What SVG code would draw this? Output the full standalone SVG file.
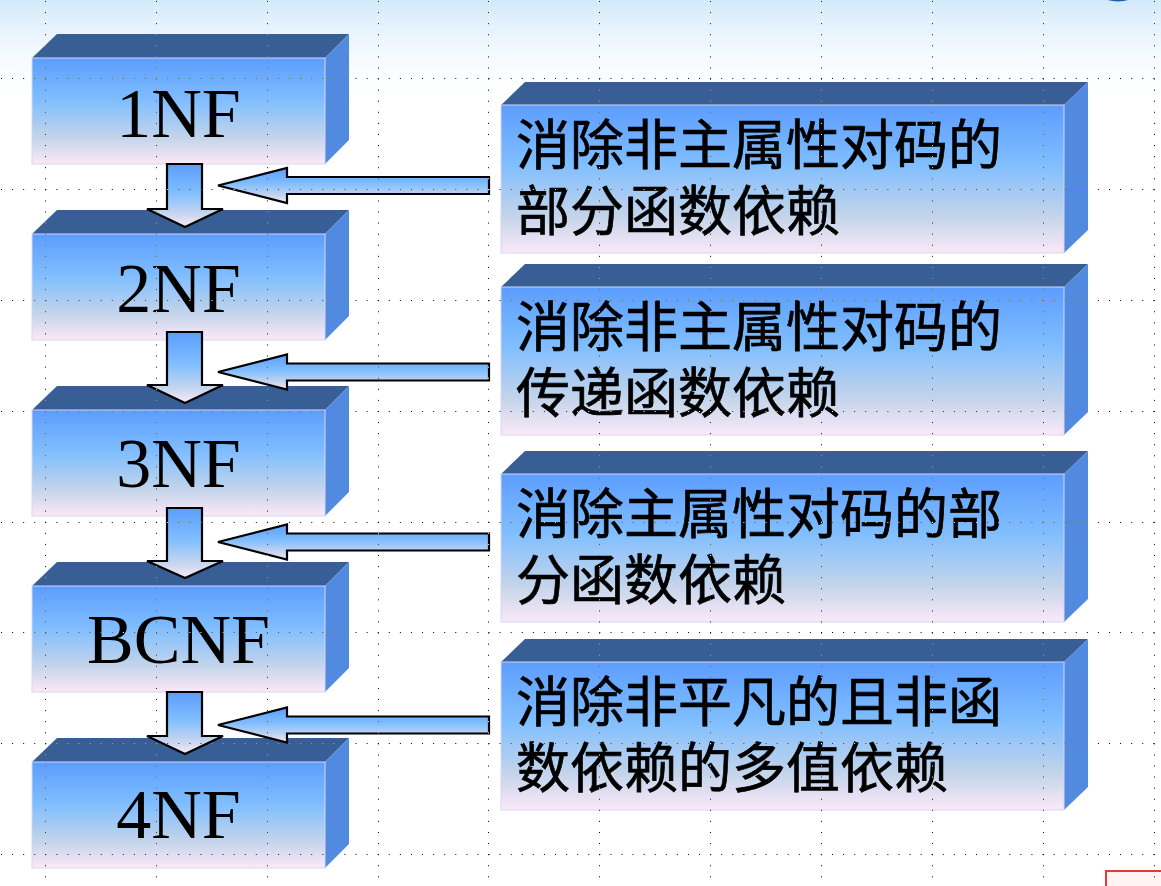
<svg xmlns="http://www.w3.org/2000/svg" width="1161" height="886" viewBox="0 0 1161 886">
<defs>
<linearGradient id="gFront" x1="0" y1="0" x2="0" y2="1">
<stop offset="0" stop-color="#5C9DFF"/>
<stop offset="0.4" stop-color="#80BEFF"/>
<stop offset="0.75" stop-color="#C3D4EA"/>
<stop offset="1" stop-color="#FBE9F8"/>
</linearGradient>
<linearGradient id="gArrow" x1="0" y1="0" x2="0" y2="1">
<stop offset="0" stop-color="#5C9DFF"/>
<stop offset="0.45" stop-color="#80BEFF"/>
<stop offset="0.8" stop-color="#C8D6EE"/>
<stop offset="1" stop-color="#FBE9F8"/>
</linearGradient>
<linearGradient id="gSky" x1="0" y1="0" x2="0" y2="1">
<stop offset="0" stop-color="#D2E9FA"/>
<stop offset="1" stop-color="#FFFFFF" stop-opacity="0"/>
</linearGradient>
<radialGradient id="gSky2" cx="0.5" cy="0" r="0.5">
<stop offset="0" stop-color="#BEE0F8"/>
<stop offset="1" stop-color="#BEE0F8" stop-opacity="0"/>
</radialGradient>
</defs>
<style>
.top{fill:#385E96}
.side{fill:#528AE0}
.front{fill:url(#gFront);stroke:#D6D6F2;stroke-width:1}
.lbl{font-family:"Liberation Serif","Times New Roman",serif;font-size:70px;fill:#000;text-anchor:middle}
.cjk{font-family:"Noto Sans CJK SC","Noto Sans",sans-serif;font-size:54px;fill:#000;stroke:#000;stroke-width:0.7}
.arr{fill:url(#gArrow);stroke:#000;stroke-width:2.2;stroke-linejoin:miter}
.grid{mix-blend-mode:difference}
.grid line{stroke:#FFFFFF;stroke-width:1;stroke-dasharray:1 10.08}
</style>
<rect x="0" y="0" width="1161" height="886" fill="#FFFFFF"/>
<rect x="0" y="0" width="1161" height="110" fill="url(#gSky)"/>
<ellipse cx="880" cy="0" rx="480" ry="95" fill="url(#gSky2)"/>
<ellipse cx="1118" cy="-4" rx="15" ry="5.5" fill="#1F5DAE"/>
<rect x="1106" y="871" width="60" height="20" fill="#FFF2F2" stroke="#E03A3A" stroke-width="2"/>

<g id="n-1nf" transform="translate(0,58)">
<polygon class="top" points="32,0 57,-24 349,-24 325,0"/>
<polygon class="side" points="325,0 349,-24 349,82 325,106"/>
<rect class="front" x="32" y="0" width="293" height="106"/>
<text class="lbl" x="178.5" y="79">1NF</text>
</g>
<g id="n-2nf" transform="translate(0,234)">
<polygon class="top" points="32,0 57,-24 349,-24 325,0"/>
<polygon class="side" points="325,0 349,-24 349,82 325,106"/>
<rect class="front" x="32" y="0" width="293" height="106"/>
<text class="lbl" x="178.5" y="78">2NF</text>
</g>
<g id="n-3nf" transform="translate(0,410)">
<polygon class="top" points="32,0 57,-24 349,-24 325,0"/>
<polygon class="side" points="325,0 349,-24 349,82 325,106"/>
<rect class="front" x="32" y="0" width="293" height="106"/>
<text class="lbl" x="178.5" y="77">3NF</text>
</g>
<g id="n-bcnf" transform="translate(0,586)">
<polygon class="top" points="32,0 57,-24 349,-24 325,0"/>
<polygon class="side" points="325,0 349,-24 349,82 325,106"/>
<rect class="front" x="32" y="0" width="293" height="106"/>
<text class="lbl" x="178.5" y="77">BCNF</text>
</g>
<g id="n-4nf" transform="translate(0,762)">
<polygon class="top" points="32,0 57,-24 349,-24 325,0"/>
<polygon class="side" points="325,0 349,-24 349,82 325,106"/>
<rect class="front" x="32" y="0" width="293" height="106"/>
<text class="lbl" x="178.5" y="76">4NF</text>
</g>

<g id="r-1" transform="translate(0,105)">
<polygon class="top" points="501,0 525,-23 1088,-23 1064,0"/>
<polygon class="side" points="1064,0 1088,-23 1088,125 1064,148"/>
<rect class="front" x="501" y="0" width="563" height="148"/>
<text class="cjk"><tspan x="516" y="60">消除非主属性对码的</tspan><tspan x="516" y="126">部分函数依赖</tspan></text>
</g>
<g id="r-2" transform="translate(0,287)">
<polygon class="top" points="501,0 525,-23 1088,-23 1064,0"/>
<polygon class="side" points="1064,0 1088,-23 1088,125 1064,148"/>
<rect class="front" x="501" y="0" width="563" height="148"/>
<text class="cjk"><tspan x="516" y="60">消除非主属性对码的</tspan><tspan x="516" y="126">传递函数依赖</tspan></text>
</g>
<g id="r-3" transform="translate(0,474)">
<polygon class="top" points="501,0 525,-23 1088,-23 1064,0"/>
<polygon class="side" points="1064,0 1088,-23 1088,125 1064,148"/>
<rect class="front" x="501" y="0" width="563" height="148"/>
<text class="cjk"><tspan x="516" y="60">消除主属性对码的部</tspan><tspan x="516" y="126">分函数依赖</tspan></text>
</g>
<g id="r-4" transform="translate(0,662)">
<polygon class="top" points="501,0 525,-23 1088,-23 1064,0"/>
<polygon class="side" points="1064,0 1088,-23 1088,125 1064,148"/>
<rect class="front" x="501" y="0" width="563" height="148"/>
<text class="cjk"><tspan x="516" y="60">消除非平凡的且非函</tspan><tspan x="516" y="126">数依赖的多值依赖</tspan></text>
</g>

<g id="connectors">
<path class="arr" d="M167,164 L202,164 L202,209 L223,209 L185,227 L147,209 L167,209 Z"/>
<path class="arr" d="M167,332 L202,332 L202,385 L223,385 L185,403 L147,385 L167,385 Z"/>
<path class="arr" d="M167,508 L202,508 L202,561 L223,561 L185,578 L147,561 L167,561 Z"/>
<path class="arr" d="M167,692 L202,692 L202,736 L223,736 L185,754 L147,736 L167,736 Z"/>
<path class="arr" d="M218,185.5 L287,168 L287,177 L489,177 L489,194 L287,194 L287,203 Z"/>
<path class="arr" d="M218,372 L287,354.5 L287,363.5 L489,363.5 L489,380.5 L287,380.5 L287,389.5 Z"/>
<path class="arr" d="M218,542 L287,524.5 L287,533.5 L489,533.5 L489,550.5 L287,550.5 L287,559.5 Z"/>
<path class="arr" d="M218,725 L287,707.5 L287,716.5 L489,716.5 L489,733.5 L287,733.5 L287,742.5 Z"/>
</g>

<g class="grid">
<line x1="45.5" y1="1" x2="45.5" y2="886"/>
<line x1="156.5" y1="1" x2="156.5" y2="886"/>
<line x1="267.5" y1="1" x2="267.5" y2="886"/>
<line x1="378.5" y1="1" x2="378.5" y2="886"/>
<line x1="488.5" y1="1" x2="488.5" y2="886"/>
<line x1="599.5" y1="1" x2="599.5" y2="886"/>
<line x1="710.5" y1="1" x2="710.5" y2="886"/>
<line x1="821.5" y1="1" x2="821.5" y2="886"/>
<line x1="932.5" y1="1" x2="932.5" y2="886"/>
<line x1="1043.5" y1="1" x2="1043.5" y2="886"/>
<line x1="1154.5" y1="1" x2="1154.5" y2="886"/>
<line x1="1" y1="78.5" x2="1161" y2="78.5"/>
<line x1="1" y1="189.5" x2="1161" y2="189.5"/>
<line x1="1" y1="300.5" x2="1161" y2="300.5"/>
<line x1="1" y1="411.5" x2="1161" y2="411.5"/>
<line x1="1" y1="522.5" x2="1161" y2="522.5"/>
<line x1="1" y1="632.5" x2="1161" y2="632.5"/>
<line x1="1" y1="743.5" x2="1161" y2="743.5"/>
<line x1="1" y1="854.5" x2="1161" y2="854.5"/>
</g>
</svg>
